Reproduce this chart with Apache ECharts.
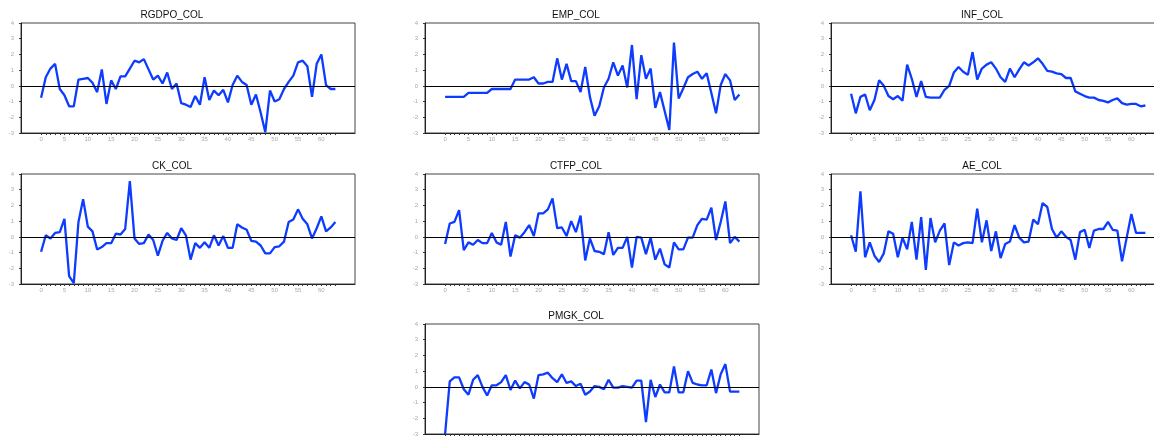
<!DOCTYPE html>
<html>
<head>
<meta charset="utf-8">
<script src="https://cdn.jsdelivr.net/npm/echarts@6/dist/echarts.min.js"></script>
<style>
  html, body { margin: 0; padding: 0; background: #fff; }
  #chart { width: 1154px; height: 437px; }
</style>
</head>
<body>
<div id="chart"></div>
<script>
// panel names and values (index 0..63)
const names = ["RGDPO_COL", "EMP_COL", "INF_COL", "CK_COL", "CTFP_COL", "AE_COL", "PMGK_COL"]

const rgdpo = [-0.75,0.55,1.1,1.4,-0.2,-0.6,-1.3,-1.3,0.4,0.45,
  0.5,0.2,-0.4,1.05,-1.15,0.35,-0.2,0.6,0.6,1.1,
  1.6,1.5,1.7,1.05,0.4,0.65,0.15,0.85,-0.2,0.15,
  -1.1,-1.2,-1.35,-0.65,-1.2,0.55,-0.9,-0.3,-0.6,-0.25,
  -1.05,0.05,0.65,0.25,0.05,-1.2,-0.55,-1.7,-2.95,-0.3,
  -1.0,-0.85,-0.2,0.25,0.65,1.5,1.6,1.25,-0.7,1.4,
  2.0,0.05,-0.2,-0.2]

const emp = [-0.7,-0.7,-0.7,-0.7,-0.7,-0.45,-0.45,-0.45,-0.45,-0.45,
  -0.2,-0.2,-0.2,-0.2,-0.2,0.4,0.4,0.4,0.4,0.55,
  0.15,0.15,0.25,0.25,1.75,0.4,1.4,0.3,0.3,-0.4,
  1.2,-0.7,-1.9,-1.3,-0.1,0.45,1.5,0.65,1.3,-0.1,
  2.6,-0.85,1.95,0.45,1.1,-1.4,-0.4,-1.6,-2.8,2.75,
  -0.8,-0.15,0.55,0.75,0.9,0.45,0.8,-0.45,-1.75,0.05,
  0.75,0.35,-0.9,-0.55]

const inf = [-0.5,-1.75,-0.7,-0.55,-1.55,-0.9,0.35,0.0,-0.65,-0.85,
  -0.65,-0.95,1.35,0.45,-0.7,0.3,-0.7,-0.75,-0.75,-0.75,
  -0.25,0.0,0.85,1.2,0.9,0.7,2.15,0.4,1.1,1.35,
  1.5,1.1,0.55,0.25,1.1,0.55,1.05,1.5,1.3,1.5,
  1.75,1.4,0.95,0.9,0.8,0.75,0.5,0.5,-0.35,-0.5,
  -0.65,-0.75,-0.75,-0.9,-0.95,-1.05,-0.9,-0.8,-1.1,-1.2,
  -1.15,-1.15,-1.3,-1.25]

const ck = [-0.95,0.1,-0.1,0.25,0.3,1.15,-2.5,-2.95,0.95,2.4,
  0.65,0.35,-0.8,-0.65,-0.4,-0.4,0.2,0.15,0.5,3.55,
  -0.1,-0.45,-0.4,0.15,-0.2,-1.2,-0.25,0.25,-0.1,-0.2,
  0.55,0.1,-1.45,-0.4,-0.7,-0.35,-0.7,0.1,-0.55,0.05,
  -0.7,-0.7,0.8,0.6,0.45,-0.25,-0.3,-0.55,-1.05,-1.05,
  -0.65,-0.6,-0.3,0.95,1.1,1.75,1.15,0.8,-0.1,0.55,
  1.3,0.35,0.6,0.95]

const ctfp = [-0.45,0.85,0.95,1.7,-0.85,-0.35,-0.5,-0.2,-0.4,-0.4,
  0.25,-0.35,-0.5,0.95,-1.25,0.1,-0.05,0.3,0.75,0.05,
  1.5,1.5,1.75,2.45,0.55,0.6,0.05,1.0,0.3,1.35,
  -1.5,-0.1,-0.9,-0.95,-1.1,0.3,-1.15,-0.7,-0.7,0.0,
  -1.95,0.0,-0.05,-1.1,-0.05,-1.45,-0.75,-1.75,-1.95,-0.35,
  -0.8,-0.8,-0.05,-0.05,0.75,1.15,1.1,1.85,-0.2,0.95,
  2.25,-0.4,0.0,-0.3]

const ae = [0.1,-0.95,2.9,-1.3,-0.35,-1.2,-1.6,-1.05,0.35,0.2,
  -1.3,-0.05,-0.8,0.95,-1.45,1.25,-2.1,1.2,-0.35,0.4,
  0.85,-1.8,-0.35,-0.55,-0.4,-0.35,-0.4,1.8,-0.35,1.05,
  -0.9,0.35,-1.35,-0.45,-0.3,0.75,-0.05,-0.35,-0.3,1.1,
  0.8,2.15,1.9,0.5,-0.05,0.35,0.0,-0.2,-1.45,0.3,
  0.45,-0.7,0.4,0.5,0.5,0.95,0.45,0.4,-1.55,-0.05,
  1.45,0.25,0.25,0.25]

const pmgk = [-3.0,0.35,0.6,0.6,-0.15,-0.5,0.45,0.75,0.0,-0.55,
  0.1,0.1,0.3,0.75,-0.2,0.4,-0.1,0.3,0.15,-0.75,
  0.75,0.8,0.9,0.55,0.3,0.8,0.25,0.35,0.05,0.2,
  -0.5,-0.3,0.05,0.0,-0.15,0.45,-0.05,-0.05,0.05,0.0,
  -0.05,0.4,0.4,-2.25,0.45,-0.65,0.15,-0.35,-0.35,1.3,
  -0.35,-0.35,1.0,0.25,0.15,0.1,0.1,1.1,-0.4,0.8,
  1.45,-0.3,-0.3,-0.3]

const xLabels = [0,5,10,15,20,25,30,35,40,45,50,55,60]
const xTicks = [0,1,2,3,4,5,6,7,8,9,10,11,12,13,14,15,16,17,18,19,20,21,22,23,24,25,26,27,28,29,30,31,
  32,33,34,35,36,37,38,39,40,41,42,43,44,45,46,47,48,49,50,51,52,53,54,55,56,57,58,59,60,61,62,63]

const allSeries = [rgdpo, emp, inf, ck, ctfp, ae, pmgk]

// panel slots: [column, row]
const slots = [[0,0],[1,0],[2,0],[0,1],[1,1],[2,1],[1,2]]
const colLeft = [21, 425, 831]
const rowTop = [23, 174, 324]
const W = 334, H = 110

const chart = echarts.init(document.getElementById("chart"))

const grids = [], xAxes = [], yAxes = [], series = [], titles = []
allSeries.forEach((vals, i) => {
  const [c, r] = slots[i]
  // third column runs past the right edge in the reference, so no auto-fitting
  grids.push({ left: colLeft[c], top: rowTop[r], width: W, height: H, show: true,
    outerBoundsMode: "none", containLabel: false,
    borderColor: "#444", borderWidth: 1, backgroundColor: "transparent" })
  xAxes.push({
    type: "value", gridIndex: i, min: -4.3, max: 67.2,
    axisLine: { onZero: false, lineStyle: { color: "#222", width: 1 } },
    axisTick: { customValues: xTicks, length: 2, lineStyle: { color: "#333" } },
    axisLabel: { customValues: xLabels, fontSize: 6, color: "#aaa", margin: 3, fontFamily: "Liberation Sans" },
    splitLine: { show: false },
  })
  yAxes.push({
    type: "value", gridIndex: i, min: -3, max: 4, interval: 1,
    axisLine: { show: true, onZero: false, lineStyle: { color: "#222", width: 1 } },
    axisTick: { show: true, length: 2, lineStyle: { color: "#333" } },
    axisLabel: { fontSize: 6, color: "#aaa", margin: 7, fontFamily: "Liberation Sans" },
    splitLine: { show: false },
  })
  series.push({
    type: "line", xAxisIndex: i, yAxisIndex: i,
    data: vals.map((v, k) => [k, v]),
    showSymbol: false, symbol: "none",
    lineStyle: { color: "#0d3cff", width: 2.3 },
    markLine: {
      silent: true, symbol: "none", label: { show: false },
      lineStyle: { color: "#000", width: 1, type: "solid" },
      data: [{ yAxis: 0 }],
    },
    animation: false,
  })
  titles.push({
    text: names[i], left: colLeft[c] + W / 2 - 16, top: rowTop[r] - 13, textAlign: "center", padding: 0,
    textStyle: { fontSize: 10, fontWeight: "normal", color: "#111", fontFamily: "Liberation Sans" },
  })
})

chart.setOption({
  animation: false,
  title: titles,
  grid: grids,
  xAxis: xAxes,
  yAxis: yAxes,
  series: series,
})
</script>
</body>
</html>
